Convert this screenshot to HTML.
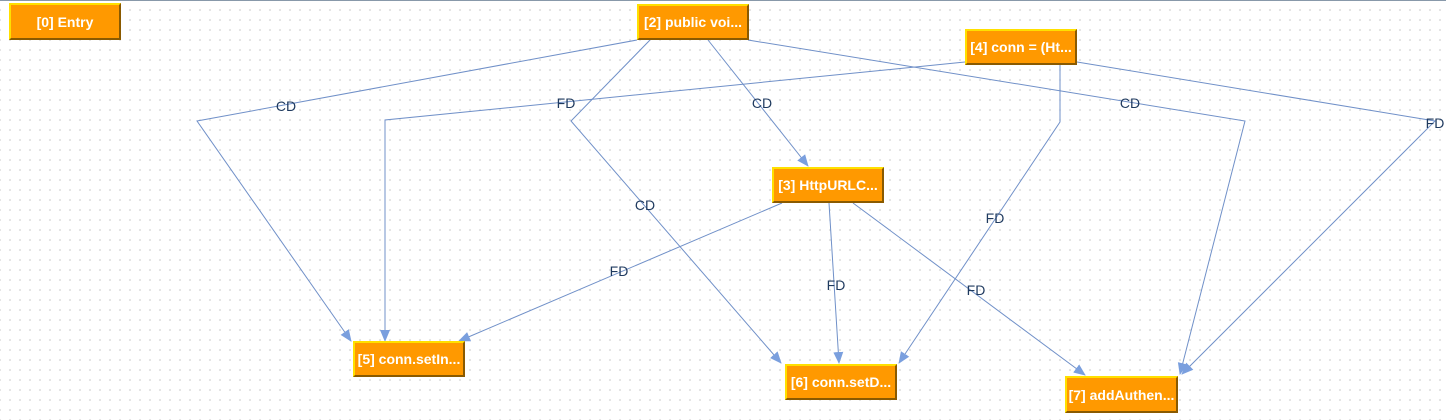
<!DOCTYPE html>
<html><head><meta charset="utf-8"><style>
body{margin:0;width:1446px;height:420px;overflow:hidden;background:#fff;
background-image:radial-gradient(circle,#d4d4d4 0.7px,transparent 1px);background-size:10px 10px;background-position:5px 5px;font-family:"Liberation Sans",sans-serif}
.n{position:absolute;box-sizing:border-box;background:#ff9900;border:2px solid;border-color:#ffe000 #8a5a00 #8a5a00 #ffe000;color:#fff;font-weight:bold;font-size:14px;display:flex;align-items:center;justify-content:center;white-space:nowrap}
svg{position:absolute;left:0;top:0}
text{font-family:"Liberation Sans",sans-serif;font-size:14px;fill:#1f3a5f;text-anchor:middle;dominant-baseline:central}
</style></head><body>
<div style="position:absolute;left:0;top:0;width:1446px;height:1px;background:#8899aa"></div>
<svg width="1446" height="420">
<defs><marker id="a" markerWidth="12" markerHeight="12" refX="11" refY="6" orient="auto" markerUnits="userSpaceOnUse"><path d="M0,1 L12,6 L0,11 Z" fill="#7a9fde"/></marker></defs>
<g fill="none" stroke="#7090c8" stroke-width="1" marker-end="url(#a)">
<polyline points="637,40 197,121 351,341"/>
<polyline points="965,62 385,120 385,341"/>
<polyline points="650,40 571,121 781,363"/>
<polyline points="708,40 808,166"/>
<polyline points="748,40 1245,121 1180,374"/>
<polyline points="1060,65 1060,122 899,363"/>
<polyline points="1077,62 1435,121 1182,374"/>
<polyline points="782,203 459,341"/>
<polyline points="829,203 839,363"/>
<polyline points="853,203 1085,375"/>
</g>
<text x="286" y="106">CD</text>
<text x="566" y="103">FD</text>
<text x="645" y="205">CD</text>
<text x="762" y="103">CD</text>
<text x="1130" y="103">CD</text>
<text x="995" y="218">FD</text>
<text x="1435" y="123">FD</text>
<text x="619" y="271">FD</text>
<text x="836" y="285">FD</text>
<text x="976" y="290">FD</text>
</svg>
<div class="n" style="left:9px;top:3px;width:112px;height:37px">[0] Entry</div>
<div class="n" style="left:637px;top:4px;width:112px;height:36px">[2] public voi...</div>
<div class="n" style="left:965px;top:29px;width:112px;height:36px">[4] conn = (Ht...</div>
<div class="n" style="left:772px;top:167px;width:112px;height:36px">[3] HttpURLC...</div>
<div class="n" style="left:353px;top:341px;width:112px;height:36px">[5] conn.setIn...</div>
<div class="n" style="left:785px;top:364px;width:112px;height:36px">[6] conn.setD...</div>
<div class="n" style="left:1065px;top:376px;width:113px;height:37px">[7] addAuthen...</div>
</body></html>
